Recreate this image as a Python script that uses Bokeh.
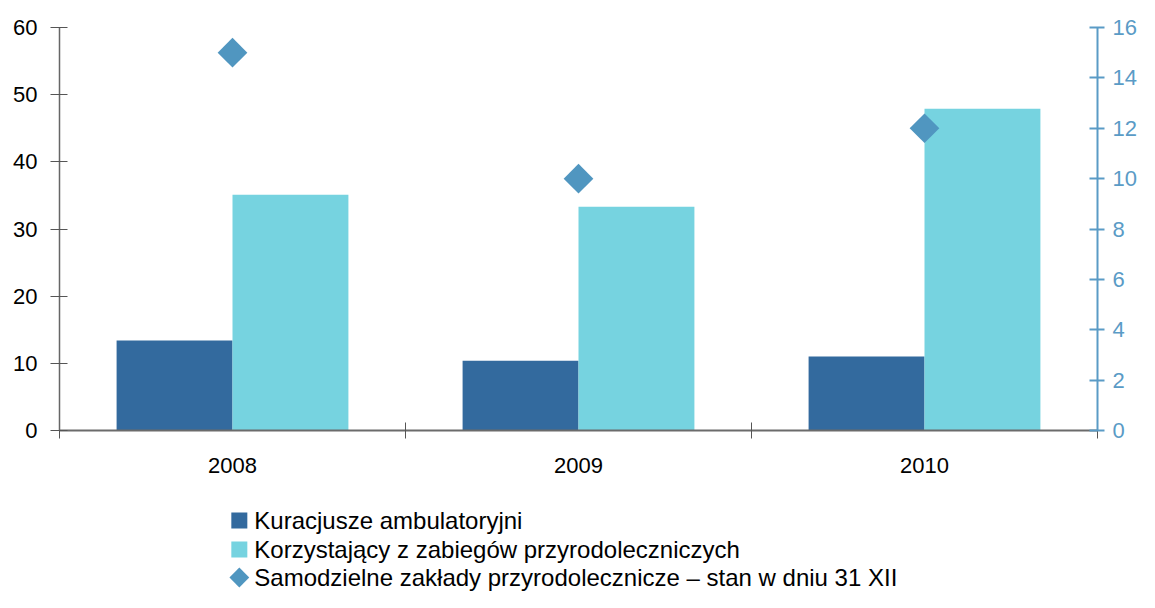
import numpy as np
from bokeh.plotting import figure
from bokeh.models import Range1d, LinearAxis, FixedTicker, ColumnDataSource
from bokeh.layouts import column
from bokeh.transform import dodge
from bokeh.core.properties import value
from bokeh.embed import file_html
from bokeh.resources import INLINE

# ---- data ----
years = ["2008", "2009", "2010"]
kuracjusze = [13.4, 10.4, 11.0]
korzystajacy = [35.1, 33.3, 47.9]
zaklady = [15, 10, 12]
left_ticks = [0, 10, 20, 30, 40, 50, 60]
right_ticks = [0, 2, 4, 6, 8, 10, 12, 14, 16]
legend_labels = [
    "Kuracjusze ambulatoryjni",
    "Korzystający z zabiegów przyrodoleczniczych",
    "Samodzielne zakłady przyrodolecznicze – stan w dniu 31 XII",
]

DARK = "#336a9e"
LIGHT = "#76d3e0"
DIAM = "#5096c0"
RAXIS = "#5a9bc6"
FONT = "Liberation Sans"

W = 1139
BL, BR = 59, 41
MAIN_H = 500
LEG_H = 92

centers = np.arange(len(years)) + 0.5
bw = 0.335

p = figure(width=W, height=MAIN_H, output_backend="svg", toolbar_location=None,
           x_range=Range1d(0, 3), y_range=Range1d(0, 60),
           min_border_left=BL, min_border_right=BR, min_border_top=27, min_border_bottom=70,
           x_axis_type=None, y_axis_type=None)
p.outline_line_color = None
p.xgrid.visible = False
p.ygrid.visible = False
p.extra_y_ranges = {"right": Range1d(0, 16)}

src = ColumnDataSource(dict(x=centers, k=kuracjusze, z=korzystajacy, s=zaklady))
p.vbar(x=dodge("x", -bw / 2), top="k", width=bw, bottom=0, source=src, fill_color=DARK, line_color=None)
p.vbar(x=dodge("x", bw / 2), top="z", width=bw, bottom=0, source=src, fill_color=LIGHT, line_color=None)
p.scatter(x="x", y="s", source=src, marker="square", angle=np.pi / 4, size=21,
          fill_color=DIAM, line_color=None, y_range_name="right")

# bottom axis
xa = LinearAxis(ticker=FixedTicker(ticks=list(centers), minor_ticks=[0, 1, 2, 3]),
                major_label_overrides={float(c): y for c, y in zip(centers, years)})
xa.major_tick_in = 0
xa.major_tick_out = 0
xa.minor_tick_in = 8
xa.minor_tick_out = 8
xa.minor_tick_line_color = "#555555"
xa.axis_line_color = "#6b6b6b"
xa.axis_line_width = 2
xa.major_label_standoff = 19
xa.major_label_text_font = FONT
xa.major_label_text_font_size = "22px"
xa.major_label_text_color = "#000000"
p.add_layout(xa, "below")

# left axis
ya = LinearAxis(ticker=FixedTicker(ticks=left_ticks, minor_ticks=[]))
ya.major_tick_in = 8
ya.major_tick_out = 9
ya.major_tick_line_color = "#555555"
ya.axis_line_color = "#666666"
ya.axis_line_width = 1.5
ya.major_label_standoff = 13
ya.major_label_text_font = FONT
ya.major_label_text_font_size = "22px"
ya.major_label_text_color = "#000000"
p.add_layout(ya, "left")

# right axis
ra = LinearAxis(y_range_name="right", ticker=FixedTicker(ticks=right_ticks, minor_ticks=[]))
ra.major_tick_in = 8
ra.major_tick_out = 7
ra.major_tick_line_color = RAXIS
ra.major_tick_line_width = 2
ra.axis_line_color = RAXIS
ra.axis_line_width = 2
ra.major_label_standoff = 8
ra.major_label_text_font = FONT
ra.major_label_text_font_size = "22px"
ra.major_label_text_color = RAXIS
p.add_layout(ra, "right")

# legend panel (drawn manually; frame is aligned with the main frame,
# so x range is set so that one unit = one screen pixel)
leg = figure(width=W, height=LEG_H, output_backend="svg", toolbar_location=None,
             x_range=Range1d(BL, W - BR), y_range=Range1d(LEG_H, 0),
             min_border_left=BL, min_border_right=BR, min_border_top=0, min_border_bottom=0,
             x_axis_type=None, y_axis_type=None)
leg.outline_line_color = None
leg.xgrid.visible = False
leg.ygrid.visible = False
rows = [20, 49, 77]
leg.scatter(x=[239, 239], y=rows[:2], marker="square", size=16,
            fill_color=[DARK, LIGHT], line_color=None)
leg.scatter(x=[239], y=[rows[2]], marker="square", angle=np.pi / 4, size=14,
            fill_color=DIAM, line_color=None)
leg.text(x=[254] * 3, y=rows, text=legend_labels, text_font=value(FONT),
         text_font_size="24px", text_baseline="middle", text_align="left",
         text_color="#000000")

layout = column(p, leg, spacing=0)
open("out.html", "w").write(file_html(layout, INLINE))
